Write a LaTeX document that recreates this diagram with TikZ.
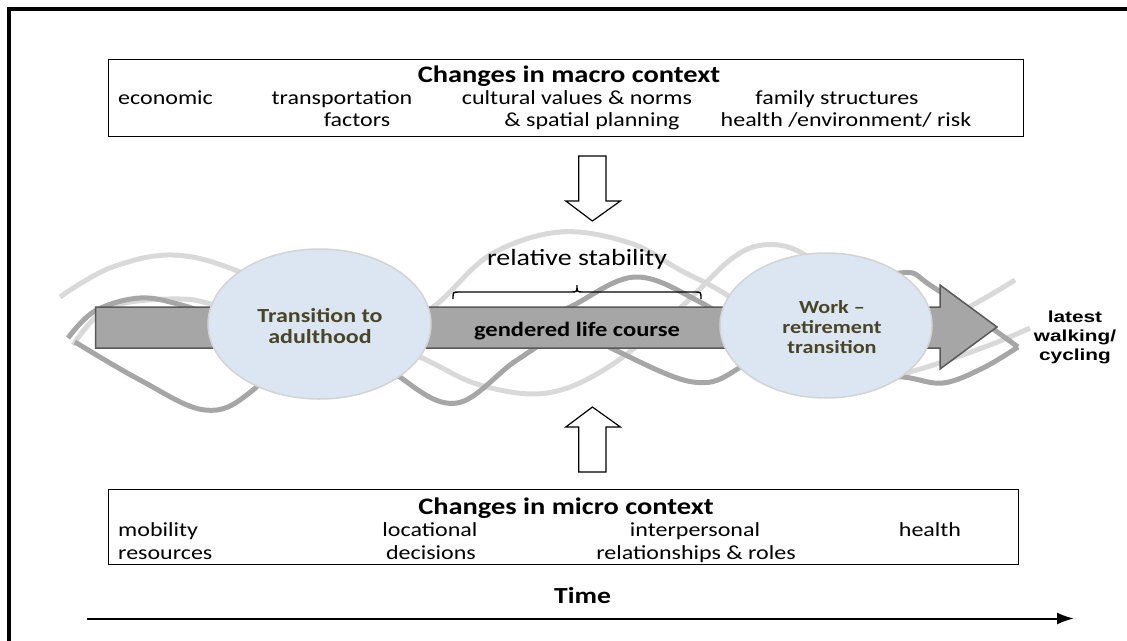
\documentclass[tikz,border=0pt]{standalone}
\usepackage{fontspec}
\setmainfont{Carlito}[FakeStretch=1.2]
\newfontfamily\arialb{Liberation Sans}[FakeStretch=1.3]
\usetikzlibrary{arrows.meta,shapes.geometric}
\definecolor{lightw}{HTML}{D9D9D9}
\definecolor{medw}{HTML}{A6A6A6}
\definecolor{barfill}{HTML}{A6A6A6}
\definecolor{bardraw}{HTML}{595959}
\definecolor{ellfill}{HTML}{DCE6F2}
\definecolor{elldraw}{HTML}{D3D3D3}
\definecolor{olivetext}{HTML}{494529}
\tikzset{
  ctxbox/.style={draw=black, line width=1.3pt, fill=white, inner sep=0pt},
  ctxtitle/.style={font=\fontsize{23.7}{26}\selectfont\bfseries, anchor=base, inner sep=0pt},
  item/.style={font=\fontsize{20}{22}\selectfont, anchor=base, inner sep=0pt},
  itemw/.style={item, anchor=base west},
  lightwave/.style={draw=lightw, line width=5pt},
  medwave/.style={draw=medw, line width=5pt},
  blockarrow/.style={draw=black, line width=1.2pt, fill=white},
  stage/.style={ellipse, fill=ellfill, draw=elldraw, line width=1.5pt},
  stagetext/.style={font=\fontsize{20}{21}\selectfont\bfseries, text=olivetext, align=center, inner sep=0pt},
}
\begin{document}
\begin{tikzpicture}[x=1pt,y=-1pt]
\useasboundingbox (0,0) rectangle (1127,640);
\clip (0,0) rectangle (1127,640);
% outer frame
\draw[line width=4pt] (9,9) rectangle (1145,660);

% macro box
\node[ctxbox, minimum width=915pt, minimum height=77pt] (macro) at (566,98) {};
\node[ctxtitle] (macroT) at (569,82) {Changes in macro context};
\node[itemw] (econ) at (118,104) {economic};
\node[item] (transp) at (342,104) {transportation};
\node[item] (cult) at (577,104) {cultural values \& norms};
\node[item] (fam) at (837,104) {family structures};
\node[item] (fact) at (357,126) {factors};
\node[item] (spat) at (592,126) {\& spatial planning};
\node[item] (health1) at (846,126) {health /environment/ risk};

% micro box
\node[ctxbox, minimum width=910pt, minimum height=75pt] (micro) at (563.5,527) {};
\node[ctxtitle] (microT) at (566,514) {Changes in micro context};
\node[itemw] (mob) at (118,536) {mobility};
\node[item] (loc) at (430,536) {locational};
\node[item] (inter) at (695,536) {interpersonal};
\node[item] (health2) at (930,536) {health};
\node[itemw] (res) at (118,559) {resources};
\node[item] (dec) at (431,559) {decisions};
\node[item] (rel) at (696,559) {relationships \& roles};

% block arrows
\draw[blockarrow] (578.7,156) -- (606,156) -- (606,201) -- (620.4,201) -- (592.4,221) -- (565.8,201) -- (578.7,201) -- cycle;
\draw[blockarrow] (592.4,407) -- (620.4,427) -- (606,427) -- (606,472) -- (578.7,472) -- (578.7,427) -- (565.8,427) -- cycle;

% waves
\draw[lightwave] plot[smooth, tension=0.6] coordinates {(60,297) (110,268) (173,255) (240,272) (330,318) (420,357) (480,385) (547,393) (610,366) (680,308) (730,260) (763,245) (800,252) (850,290) (900,320) (950,315) (985,298) (1015,280)};
\draw[lightwave] plot[smooth, tension=0.6] coordinates {(73,345) (95,318) (125,303) (180,299) (215,305) (300,330) (380,330) (433,307) (490,255) (560,232) (630,243) (680,270) (730,297) (800,350) (870,378) (920,369) (990,345) (1030,328)};
\draw[medwave] plot[smooth, tension=0.6] coordinates {(68,338) (95,311) (140,298) (185,306) (260,330) (380,335) (520,330) (570,307) (635,277) (700,302) (760,340) (850,375) (903,377) (943,383) (983,368) (1018,347)};
\draw[medwave] plot[smooth, tension=0.6] coordinates {(75,342) (140,380) (205,410) (253,390) (330,310) (400,377) (457,403) (517,360) (575,328) (615,350) (693,382) (742,366) (820,300) (900,273) (933,287) (1018,347)};

% main life-course arrow
\coordinate (barL) at (95.6,327.5);
\coordinate (tip) at (997,327);
\draw[fill=barfill, draw=bardraw, line width=1.5pt] (95.6,307) -- (940,307) -- (940,285) -- (tip) -- (940,369) -- (940,348) -- (95.6,348) -- cycle;
\node[font=\fontsize{20.4}{22}\selectfont\bfseries, anchor=base, inner sep=0pt] (glc) at (577,336) {gendered life course};

% transitions
\node[stage, minimum width=223pt, minimum height=150pt] (adult) at (319.5,324) {};
\node[stagetext] (adultT) at (320,326) {Transition to\\adulthood};
\node[stage, minimum width=212pt, minimum height=145pt] (retire) at (826,325.5) {};
\node[stagetext, font=\fontsize{18.5}{20}\selectfont\bfseries] (retireT) at (832,327) {Work --\\retirement\\transition};

% relative stability brace
\draw[line width=1.4pt] (453,299) .. controls (453,292) .. (459,292) -- (571,292) .. controls (577,292) .. (577,285) .. controls (577,292) .. (583,292) -- (695,292) .. controls (701,292) .. (701,299);
\node[font=\fontsize{23.3}{25}\selectfont, anchor=base, inner sep=0pt] (stab) at (577,265) {relative stability};

% latest walking/cycling
\node[font=\arialb\fontsize{16}{19}\selectfont\bfseries, align=center, inner sep=0pt] (latest) at (1075,337) {latest\\walking/\\cycling};

% time
\node[ctxtitle, font=\fontsize{23}{25}\selectfont\bfseries] (timeT) at (582.5,603) {Time};
\coordinate (t0) at (87,618.5);
\coordinate (t1) at (1074,618.5);
\draw[line width=2pt, -{Latex[length=17pt,width=12pt]}] (t0) -- (t1);
\end{tikzpicture}
\end{document}
